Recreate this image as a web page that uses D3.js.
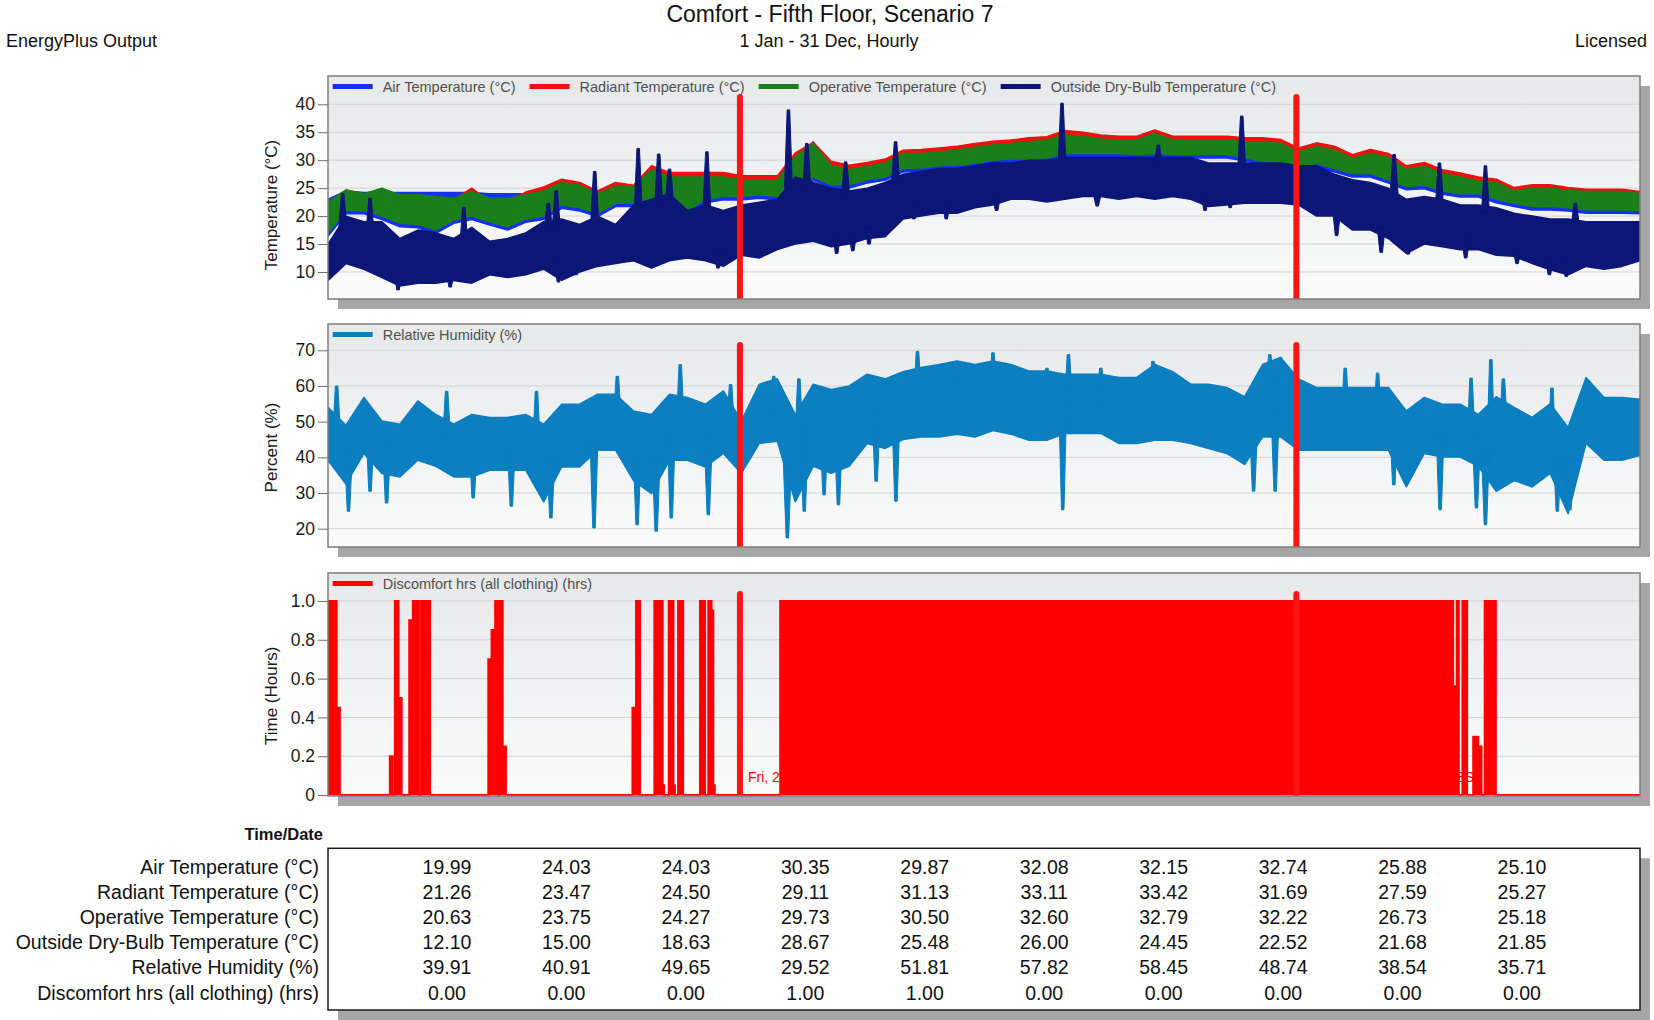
<!DOCTYPE html>
<html>
<head>
<meta charset="utf-8">
<script src="https://cdn.jsdelivr.net/npm/d3@7"></script>
<style>
  body { margin: 0; background: #fff; }
  svg text { font-family: "Liberation Sans", Arial, sans-serif; }
</style>
</head>
<body>
<svg id="chart" width="1654" height="1020"></svg>
<script>
// ---- data (5-day envelope samples + isolated spikes) ----
const days = [0,5,10,15,20,25,30,35,40,45,50,55,60,65,70,75,80,85,90,95,
  100,105,110,115,120,125,130,135,140,145,150,155,160,165,170,175,180,185,190,195,
  200,205,210,215,220,225,230,235,240,245,250,255,260,265,270,275,280,285,290,295,
  300,305,310,315,320,325,330,335,340,345,350,355,360,365];

// outside dry-bulb: typical daily max / min envelope
const outsideHi = [15,20,19,19,16,17.5,17,16,18,15.5,
  16,17,19,19.5,18.5,20,18.5,22,23,24,
  21,22,21,22,22.5,23,27,26,25,24.5,
  25,26,27.5,28,28.5,28.5,29,29.5,29.5,30,
  30,30.5,30.5,30.5,30.5,30.5,30.5,30.5,30.5,29.5,
  29.5,29.5,29.5,29.5,29,29,27.5,26.5,26,25,
  23,23.5,23,22,22,21.5,20.5,20,19.5,19.5,
  19,19,19,19];
const outsideLo = [8.5,11.5,10.5,9,7.5,8,8,8.5,8,9.5,
  9,9.5,10.5,8.5,10,11,11.5,12,10.7,12,
  12.5,12,11,13,12.5,14,15,15.5,14.5,15,
  16,16.3,19.5,20,20.5,20.5,21.5,22,23,23,
  22.5,23,23.5,23.5,23,23.5,23,23.5,23,21.7,
  22,22.3,22.3,22.3,22,20,20,17.5,17.5,16,
  13.3,15,14.5,14,14,13,12.8,11.5,10.4,9.5,
  11,10.5,11,12];
// outside dry-bulb spikes (up and down): day, tip, base
const outSpikeDay  = [4.1,11.7,37.8,61.3,63.5,74.2,86.3,92,95,105.4,128.1,133.2,144,157.9,204.2,231,254.2,296.6,309.2,322,347,
  19.5,34,64.1,69,108.5,141.5,146,150.5,163,172,186,214,244,251,280.6,293,300.5,316.5,330.8,339.8,344.5];
const outSpikeTip  = [24,23.2,21.6,22.3,24.6,28,32.1,31.1,28.4,31.5,39,33,29.7,33.3,40.2,32.7,37.9,31,29.5,29,22.3,
  6.8,7.3,8.2,9.5,10.7,13.3,13.8,15,19.5,19.5,21,21.8,21,21.5,16.5,13.5,13.2,12.5,11.5,9.5,9.2];
const outSpikeBase = [18,17,15,18,18,19,21,22,23,21,25,25,24,26,29,29,28.5,24,22,20.5,18.5,
  10,10,12,12,14,17,17,18,22,22.5,23.5,24,24,24,21,18,16,16,14,12.5,12];

const opHi = [22.5,24.7,24,25,23.8,23.8,23.5,23.2,24.4,23.2,
  23.2,23.8,24.5,26,25.5,24,25.3,25.3,28.3,27,
  27,27,27,26.5,26.5,26.5,30.6,33,29,28.3,
  28.9,29.5,31.2,31.2,31.5,31.8,32.3,32.7,33,33.3,
  33.6,34.5,34.3,33.8,33.6,33.6,34.8,33.6,33.6,33.6,
  33.6,33.3,33.3,33,31.5,32.4,31.8,30.3,31.2,30.5,
  28.3,28.9,27.6,27,26.3,26,24.5,25,25,24.6,
  24.4,24.4,24.4,24];
const opLo = [17,21,21,20,18.7,18.5,17.5,19.3,20,19,
  18.1,19.5,20,22,21.5,20.5,22.3,22.3,22.8,21.5,
  21,23,23.5,23.5,23.8,23.5,24,27,25.6,25.6,
  26.5,27,28.5,28.6,29,29.1,29.5,30,30.2,30.2,
  30.4,31.2,31.2,31.2,31.2,31,31.2,31,31,31,
  31,30.5,29.8,29.5,28.8,29.4,28.5,27.6,27.6,26.5,
  25.3,25.5,24.5,24,24,23,22.3,21.7,21.7,21.5,
  21.1,21.1,21.1,21];

const radHi = [21.5,23.5,23,24,23,23,22.5,23,25,22.5,
  22.5,24.3,25.2,26.6,26,24.5,26,25.5,29,27.8,
  27.8,27.8,27.8,27.2,27.2,27.2,31.3,33.2,29.8,29.1,
  29.6,30.2,31.8,31.9,32.2,32.5,33,33.4,33.6,34,
  34.2,35.3,35,34.5,34.3,34.3,35.4,34.3,34.3,34.3,
  34.3,34,34,33.7,32.2,33.1,32.5,31,31.9,31.2,
  29,29.6,28.3,27.7,27,26.6,25.1,25.6,25.6,25.1,
  24.8,24.8,24.8,24.4];
const radLo = [17.4,21.4,21.4,20.4,19.1,18.9,17.9,19.7,20.4,19.4,
  18.5,19.9,20.4,22.4,21.9,20.9,22.7,22.7,23.2,21.9,
  21.4,23.4,23.9,23.9,24.2,23.9,24.4,27.4,26,26,
  26.9,27.4,28.9,29,29.4,29.5,29.9,30.4,30.6,30.6,
  30.8,31.6,31.6,31.6,31.6,31.4,31.6,31.4,31.4,31.4,
  31.4,30.9,30.2,29.9,29.2,29.8,28.9,28,28,26.9,
  25.7,25.9,24.9,24.4,24.4,23.4,22.7,22.1,22.1,21.9,
  21.5,21.5,21.5,21.4];

const airHi = [23,24.5,24.2,24.2,24.2,24.2,24.2,24.2,24.2,24,
  24,24,24,24.5,24.5,24,24.5,24.5,27,25.5,
  25,25.5,25.5,25,25,25,29,33.3,28,27,
  27.5,28,30,30,30.5,30.8,31.3,31.7,32,32.3,
  32.6,33.5,33.3,32.8,32.6,32.6,33.8,32.6,32.6,32.6,
  32.6,32.3,32.3,32,30.5,31.4,30.8,29.3,30.2,29.5,
  27.3,27.9,26.6,26,25.3,25,24,24.2,24.2,24.2,
  24.2,24.2,24.2,24];
const airLo = [16.4,20.4,20.4,19.4,18.1,17.9,16.9,18.7,19.4,18.4,
  17.5,18.9,19.4,21.4,20.9,19.9,21.7,21.7,22.2,20.9,
  20.4,22.4,22.9,22.9,23.2,22.9,23.4,26.4,25,25,
  25.9,26.4,27.9,28,28.4,28.5,28.9,29.4,29.6,29.6,
  29.8,30.6,30.6,30.6,30.6,30.4,30.6,30.4,30.4,30.4,
  30.4,29.9,29.2,28.9,28.2,28.8,27.9,27,27,25.9,
  24.7,24.9,23.9,23.4,23.4,22.4,21.7,21.1,21.1,20.9,
  20.5,20.5,20.5,20.4];

// relative humidity: core band + isolated spikes
const rhHi = [54,49,56.8,50.2,49.3,55.8,52,49.3,52,51.2,
  51.2,52,49.3,54.9,54.9,57.7,57.7,53,52,57.7,
  56.8,54.9,58.6,50.2,60.5,62,52,60.5,59,60,
  63.3,62,64,65.2,66,67,66,67,66,64.2,
  64.2,63.3,63.3,63.3,62.4,62.4,66,64,60.5,60.5,
  59.6,57,66,68,62,59.6,59.6,59.6,59.6,59.6,
  53,56.8,54.9,54.9,52,57,54,51.2,55,48.4,
  62.4,56.8,56.8,56.3];
const rhLo = [39.2,32.5,41.1,35.5,34.5,39.2,37.5,34.5,34.5,36.4,
  36.4,36.4,27.5,37.3,37.3,42,42,33.5,29.8,39.2,
  39.2,37.3,41.1,35.5,43.9,44.5,27.5,37.5,35.5,37.5,
  43.9,42.5,45,45.7,45.7,46.5,45.7,47.5,46.5,44.8,
  44.8,46.7,46.7,46.7,43.9,43.9,44.8,44.8,43.9,42.5,
  41.1,38,45.7,45.7,42,42,42,42,42,42,
  31.7,41.1,40.1,40.1,37.5,30.5,33.5,31.7,35.5,24.2,
  43.9,39.2,39.2,40.5];
const rhSpikeDay  = [2.4,33,58,80.5,98,112,124,131,164,175,185,200,206,215,229.5,262,265,283,292,318,323.5,327,340.5,
  5.7,11.7,16.3,40.4,51,62,74,86,91.3,95.5,105.8,127.8,132.5,138,142,152.5,158,204.4,257.5,263.5,296.5,309.4,319.5,322,342,345.5];
const rhSpikeTip  = [60,58.5,58.5,62.7,66,60.4,62.7,62,69.7,66.4,69.3,65,68.8,65,66.9,68.8,68,65,63.6,62.2,67.4,62,59.4,
  24.9,30.5,27.2,28.6,26.3,23,20.2,21.1,19.3,23,23.9,17.4,24.9,29.5,26.7,33.3,27.7,25.3,30.5,30.5,32.3,25.3,25.8,21.1,24.9,25.3];
const rhSpikeBase = [46,45,42,50,48,48,52,45,56,57,57,55,55,55,55,56,56,50,50,45,42,48,40,
  42,47,43,43,43,40,45,42,40,47,45,38,48,47,47,52,52,55,48,52,50,47,45,42,42,40];

// discomfort hours: runs of [start day, end day, value]
const discStart = [0,2.4,17.2,18.6,19.6,22.6,23.6,25.9,44.6,45.5,46.5,47.8,48.6,84.7,85.7,90.8,93.1,94.8,96.1,97.4,103.5,105.8,106.7,107.2,125.8,313,314,315.6,318.6,320,321.8];
const discEnd   = [2.4,3.3,18.0,19.6,20.5,23.6,25.3,28.4,45.5,46.5,47.4,48.6,49.5,85.7,86.8,93.1,93.5,96.1,96.5,98.8,104.9,106.7,107.2,107.6,313,314,314.6,316.9,320,320.9,324.9];
const discValue = [1,0.45,0.2,1,0.5,0.9,1,1,0.7,0.85,1,1,0.25,0.45,1,1,0.05,1,0.05,1,1,1,0.95,0.05,1,0.56,1,1,0.3,0.25,1];

const cursorDays = [114.6, 269.4];
const cursorLabels = ["Fri, 25 Apr 2014 13:00 EST", "Sat, 27 Sep 2014 10:00 EST"];

const tempTicks = [10,15,20,25,30,35,40];
const rhTicks = [20,30,40,50,60,70];
const hrsTicks = [0,0.2,0.4,0.6,0.8,1.0];
const hrsTickLabels = ["0","0.2","0.4","0.6","0.8","1.0"];

const tableLabels = ["Air Temperature (°C)","Radiant Temperature (°C)","Operative Temperature (°C)",
  "Outside Dry-Bulb Temperature (°C)","Relative Humidity (%)","Discomfort hrs (all clothing) (hrs)"];
const tabAir  = [19.99,24.03,24.03,30.35,29.87,32.08,32.15,32.74,25.88,25.10];
const tabRad  = [21.26,23.47,24.50,29.11,31.13,33.11,33.42,31.69,27.59,25.27];
const tabOp   = [20.63,23.75,24.27,29.73,30.50,32.60,32.79,32.22,26.73,25.18];
const tabOut  = [12.10,15.00,18.63,28.67,25.48,26.00,24.45,22.52,21.68,21.85];
const tabRh   = [39.91,40.91,49.65,29.52,51.81,57.82,58.45,48.74,38.54,35.71];
const tabDisc = [0.00,0.00,0.00,1.00,1.00,0.00,0.00,0.00,0.00,0.00];

// ---- layout ----
const X0 = 328, X1 = 1640, PH = 223;
const panelTop = [76, 324, 573];
const C = { air:'#1430f0', rad:'#f01010', op:'#1a7f1a', out:'#0b1677', rh:'#0b7fc0', disc:'#ff0000', cursor:'#ff1414' };

const svg = d3.select('#chart');
const defs = svg.append('defs');
const grad = defs.append('linearGradient').attr('id','bg').attr('x1',0).attr('y1',0).attr('x2',0).attr('y2',1);
grad.append('stop').attr('offset','0%').attr('stop-color','#e6e8ea');
grad.append('stop').attr('offset','100%').attr('stop-color','#fbfbfb');

const x = d3.scaleLinear().domain([0,365]).range([X0,X1]);

// header texts
svg.append('text').attr('x',830).attr('y',22).attr('text-anchor','middle')
  .attr('font-size',23).attr('fill','#111').text('Comfort - Fifth Floor, Scenario 7');
svg.append('text').attr('x',829).attr('y',46.5).attr('text-anchor','middle')
  .attr('font-size',18).attr('fill','#111').text('1 Jan - 31 Dec, Hourly');
svg.append('text').attr('x',6).attr('y',46.5).attr('font-size',18).attr('fill','#111').text('EnergyPlus Output');
svg.append('text').attr('x',1647).attr('y',46.5).attr('text-anchor','end')
  .attr('font-size',18).attr('fill','#111').text('Licensed');

function makePanel(i, domain, ticks, tickFmt, title, titleY){
  const top = panelTop[i];
  const y = d3.scaleLinear().domain(domain).range([top+PH, top]);
  const g = svg.append('g');
  g.append('rect').attr('x',X0+10).attr('y',top+10).attr('width',X1-X0).attr('height',PH).attr('fill','#a6a6a6');
  g.append('rect').attr('x',X0).attr('y',top).attr('width',X1-X0).attr('height',PH).attr('fill','url(#bg)');
  defs.append('clipPath').attr('id','clip'+i).append('rect')
    .attr('x',X0).attr('y',top).attr('width',X1-X0).attr('height',PH);

  g.selectAll('.grid').data(ticks).enter().append('line')
    .attr('x1',X0).attr('x2',X1).attr('y1',d=>y(d)).attr('y2',d=>y(d))
    .attr('stroke','#d3d3d3').attr('stroke-width',1);

  const axis = d3.axisLeft(y).tickValues(ticks).tickSize(10).tickPadding(3);
  if (tickFmt) axis.tickFormat(tickFmt);
  const ag = g.append('g').attr('transform',`translate(${X0},0)`).call(axis);
  ag.select('.domain').remove();
  ag.selectAll('.tick line').attr('stroke','#6e6e6e');
  ag.selectAll('.tick text').attr('font-size',17.5).attr('fill','#1a1a1a')
    .style('font-family','"Liberation Sans", Arial, sans-serif');

  g.append('text').attr('transform',`translate(277,${titleY}) rotate(-90)`)
    .attr('text-anchor','middle').attr('font-size',17).attr('fill','#1a1a1a').text(title);

  const plot = g.append('g').attr('clip-path',`url(#clip${i})`);
  return { g, plot, y, top };
}

function drawBand(p, lo, hi, color){
  const area = d3.area().x((d,k)=>x(days[k])).y0((d,k)=>p.y(lo[k])).y1((d,k)=>p.y(hi[k]));
  p.plot.append('path').datum(days).attr('d',area)
    .attr('fill',color).attr('stroke',color).attr('stroke-width',1.5).attr('stroke-linejoin','round');
}

// tapered spike: wide at its base, thin at its tip
function drawSpikes(p, sDays, tips, bases, color){
  const spike = d3.area().x(d=>x(d.d)).y0(d=>p.y(d.b)).y1(d=>p.y(d.v));
  sDays.forEach((d,k)=>{
    const pts = [
      {d:d-1.1, b:bases[k], v:bases[k]},
      {d:d-0.35, b:bases[k], v:tips[k]},
      {d:d+0.35, b:bases[k], v:tips[k]},
      {d:d+1.1, b:bases[k], v:bases[k]}
    ];
    p.plot.append('path').datum(pts).attr('d',spike).attr('fill',color)
      .attr('stroke',color).attr('stroke-width',1);
  });
}

function drawCursors(p){
  p.plot.selectAll(null).data(cursorDays).enter().append('line')
    .attr('x1',d=>x(d)).attr('x2',d=>x(d))
    .attr('y1',p.top+21).attr('y2',p.top+PH+4)
    .attr('stroke',C.cursor).attr('stroke-width',6).attr('stroke-linecap','round');
}

function drawFrame(p){
  p.g.append('rect').attr('x',X0).attr('y',p.top).attr('width',X1-X0).attr('height',PH)
    .attr('fill','none').attr('stroke','#7d7d7d').attr('stroke-width',1.5);
}

function drawLegend(p, items){
  let lx = 332.7;
  const cy = p.top + 10.5;
  items.forEach(it=>{
    p.g.append('rect').attr('x',lx).attr('y',cy-2.5).attr('width',40).attr('height',5).attr('fill',it.color);
    const t = p.g.append('text').attr('x',lx+50).attr('y',cy+5).attr('font-size',14.5)
      .attr('fill','#505050').text(it.label);
    lx = lx + 50 + t.node().getComputedTextLength() + 14;
  });
}

// ---- panel 1: temperatures ----
const p1 = makePanel(0, [5.17,45.06], tempTicks, null, 'Temperature (°C)', 205);
drawBand(p1, airLo, airHi, C.air);
drawBand(p1, radLo, radHi, C.rad);
drawBand(p1, opLo, opHi, C.op);
drawBand(p1, outsideLo, outsideHi, C.out);
drawSpikes(p1, outSpikeDay, outSpikeTip, outSpikeBase, C.out);
drawCursors(p1);
drawFrame(p1);
drawLegend(p1, [
  {label:'Air Temperature (°C)', color:C.air},
  {label:'Radiant Temperature (°C)', color:C.rad},
  {label:'Operative Temperature (°C)', color:C.op},
  {label:'Outside Dry-Bulb Temperature (°C)', color:C.out}
]);

// ---- panel 2: relative humidity ----
const p2 = makePanel(1, [14.87,77.37], rhTicks, null, 'Percent (%)', 447.5);
drawBand(p2, rhLo, rhHi, C.rh);
drawSpikes(p2, rhSpikeDay, rhSpikeTip, rhSpikeBase, C.rh);
drawCursors(p2);
drawFrame(p2);
drawLegend(p2, [{label:'Relative Humidity (%)', color:C.rh}]);

// ---- panel 3: discomfort hours ----
const p3 = makePanel(2, [-0.005,1.144], hrsTicks, (d,k)=>hrsTickLabels[k], 'Time (Hours)', 695.8);
p3.plot.selectAll(null).data(cursorDays).enter().append('text')
  .attr('x',d=>x(d)+8).attr('y',782).attr('font-size',14).attr('fill',C.disc)
  .text((d,k)=>cursorLabels[k]);
const steps = [{d:0,v:0}];
discStart.forEach((s,k)=>{
  steps.push({d:s,v:0},{d:s,v:discValue[k]},{d:discEnd[k],v:discValue[k]},{d:discEnd[k],v:0});
});
steps.push({d:365,v:0});
p3.plot.append('path').datum(steps)
  .attr('d', d3.area().x(d=>x(d.d)).y0(p3.y(0)).y1(d=>p3.y(d.v)))
  .attr('fill',C.disc);
p3.plot.append('path').datum(steps)
  .attr('d', d3.line().x(d=>x(d.d)).y(d=>p3.y(d.v)))
  .attr('fill','none').attr('stroke',C.disc).attr('stroke-width',2);
drawCursors(p3);
drawFrame(p3);
drawLegend(p3, [{label:'Discomfort hrs (all clothing) (hrs)', color:C.disc}]);

// ---- table ----
const TT = 848.3, TB = 1010;
svg.append('rect').attr('x',X0+10).attr('y',TT+10).attr('width',X1-X0).attr('height',TB-TT).attr('fill','#a6a6a6');
svg.append('rect').attr('x',X0).attr('y',TT).attr('width',X1-X0).attr('height',TB-TT)
  .attr('fill','#fff').attr('stroke','#1a1a1a').attr('stroke-width',1.5);
svg.append('text').attr('x',323).attr('y',840).attr('text-anchor','end')
  .attr('font-size',16.5).attr('font-weight','bold').attr('fill','#111').text('Time/Date');

const tableRows = [tabAir, tabRad, tabOp, tabOut, tabRh, tabDisc];
const colX = d3.scaleLinear().domain([0,9]).range([447,1522]);
const rowY = d3.scaleLinear().domain([0,5]).range([874,999.5]);
tableRows.forEach((vals,r)=>{
  svg.append('text').attr('x',319).attr('y',rowY(r)).attr('text-anchor','end')
    .attr('font-size',19.5).attr('fill','#111').text(tableLabels[r]);
  svg.selectAll(null).data(vals).enter().append('text')
    .attr('x',(d,c)=>colX(c)).attr('y',rowY(r)).attr('text-anchor','middle')
    .attr('font-size',19.5).attr('fill','#111').text(d=>d.toFixed(2));
});
</script>
</body>
</html>
